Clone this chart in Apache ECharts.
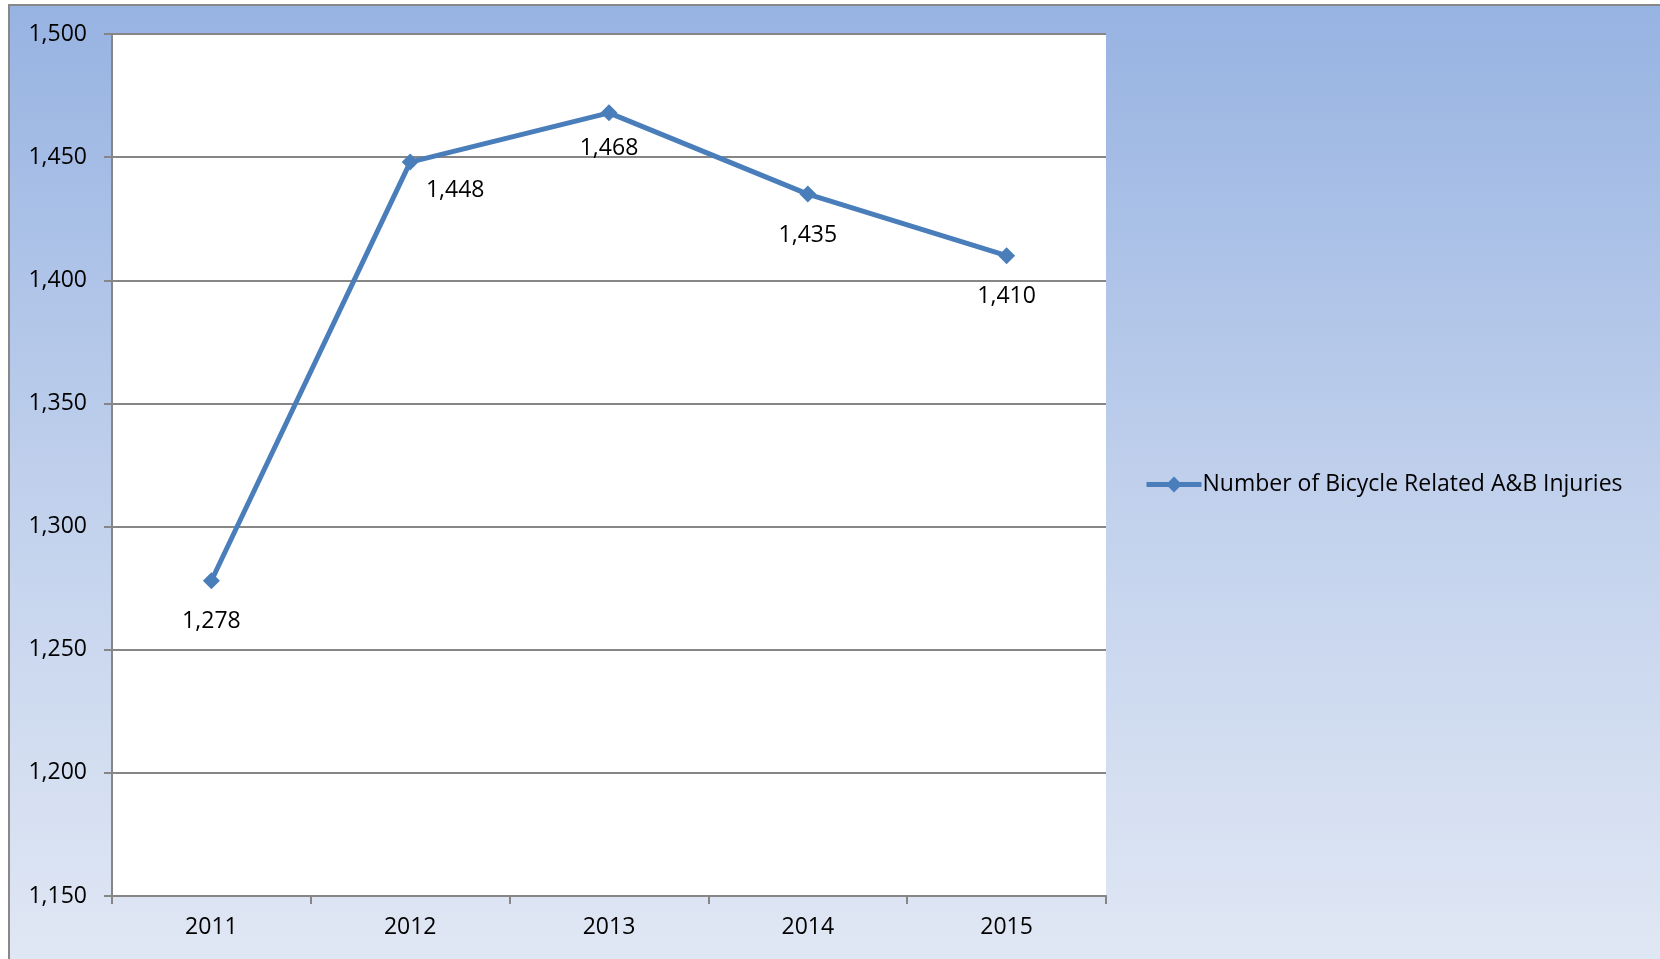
<!DOCTYPE html>
<html lang="en">
<head>
    <meta charset="UTF-8">
    <title>Bicycle Related A&amp;B Injuries</title>
    <script src="https://cdn.jsdelivr.net/npm/echarts@6/dist/echarts.min.js"></script>
    <style>
    html, body {
        margin: 0;
        padding: 0;
        background: #fff;
    }
    #wrap {
        position: absolute;
        left: 8px;
        top: 4px;
        width: 1652px;
        height: 955px;
        border-left: 2px solid #888;
        border-top: 2px solid #888;
    }
    #main {
        width: 1650px;
        height: 953px;
    }
    </style>
</head>
<body>
    <div id="wrap"><div id="main"></div></div>
    <script>
    // chart data
    var years = ['2011', '2012', '2013', '2014', '2015'];
    var injuries = [1278, 1448, 1468, 1435, 1410];
    var seriesName = 'Number of Bicycle Related A&B Injuries';

    var lineColor = '#4a7ebb';
    var textFont = '"Open Sans", "Noto Sans", sans-serif';
    var fontSize = 23;

    // label placement per point (style only)
    var labelStyles = [
        { position: 'bottom', distance: 21 },
        { position: 'inside', offset: [45, 28] },
        { position: 'bottom', distance: 16 },
        { position: 'bottom', distance: 21 },
        { position: 'bottom', distance: 21 }
    ];

    var seriesData = injuries.map(function (v, i) {
        return { value: v, label: labelStyles[i] };
    });

    var myChart = echarts.init(document.getElementById('main'));
    var option = {
        backgroundColor: {
            type: 'linear', x: 0, y: 0, x2: 0, y2: 1,
            colorStops: [
                { offset: 0, color: '#97b3e2' },
                { offset: 0.5, color: '#c0d0ec' },
                { offset: 1, color: '#e0e7f4' }
            ]
        },
        textStyle: { fontFamily: textFont },
        grid: {
            left: 102,
            right: 554,
            top: 28,
            bottom: 63,
            show: true,
            backgroundColor: '#fff',
            borderWidth: 0
        },
        legend: {
            orient: 'vertical',
            left: 1129,
            top: 462,
            itemWidth: 55,
            itemHeight: 20,
            itemGap: 4,
            data: [seriesName],
            lineStyle: { width: 5 },
            textStyle: { fontSize: fontSize, color: '#000', fontFamily: textFont, padding: [0, 0, 0, -4] }
        },
        xAxis: {
            type: 'category',
            data: years,
            boundaryGap: true,
            axisLine: { lineStyle: { color: '#868686', width: 2 } },
            axisTick: { show: true, length: 8, lineStyle: { color: '#868686', width: 2 } },
            axisLabel: { color: '#000', fontSize: fontSize, margin: 20 }
        },
        yAxis: {
            type: 'value',
            min: 1150,
            max: 1500,
            interval: 50,
            axisLine: { show: true, lineStyle: { color: '#868686', width: 2 } },
            axisTick: { show: true, length: 8, lineStyle: { color: '#868686', width: 2 } },
            axisLabel: {
                color: '#000',
                fontSize: fontSize,
                margin: 25,
                formatter: function (v) { return v.toLocaleString('en-US'); }
            },
            splitLine: { show: true, lineStyle: { color: '#868686', width: 2 } }
        },
        series: [{
            name: seriesName,
            type: 'line',
            data: seriesData,
            symbol: 'diamond',
            symbolSize: 17,
            color: lineColor,
            lineStyle: { color: lineColor, width: 5 },
            itemStyle: { color: lineColor },
            label: {
                show: true,
                color: '#000',
                fontSize: fontSize,
                fontFamily: textFont,
                formatter: function (p) { return p.value.toLocaleString('en-US'); }
            },
            animation: false
        }]
    };
    myChart.setOption(option);
    </script>
</body>
</html>
